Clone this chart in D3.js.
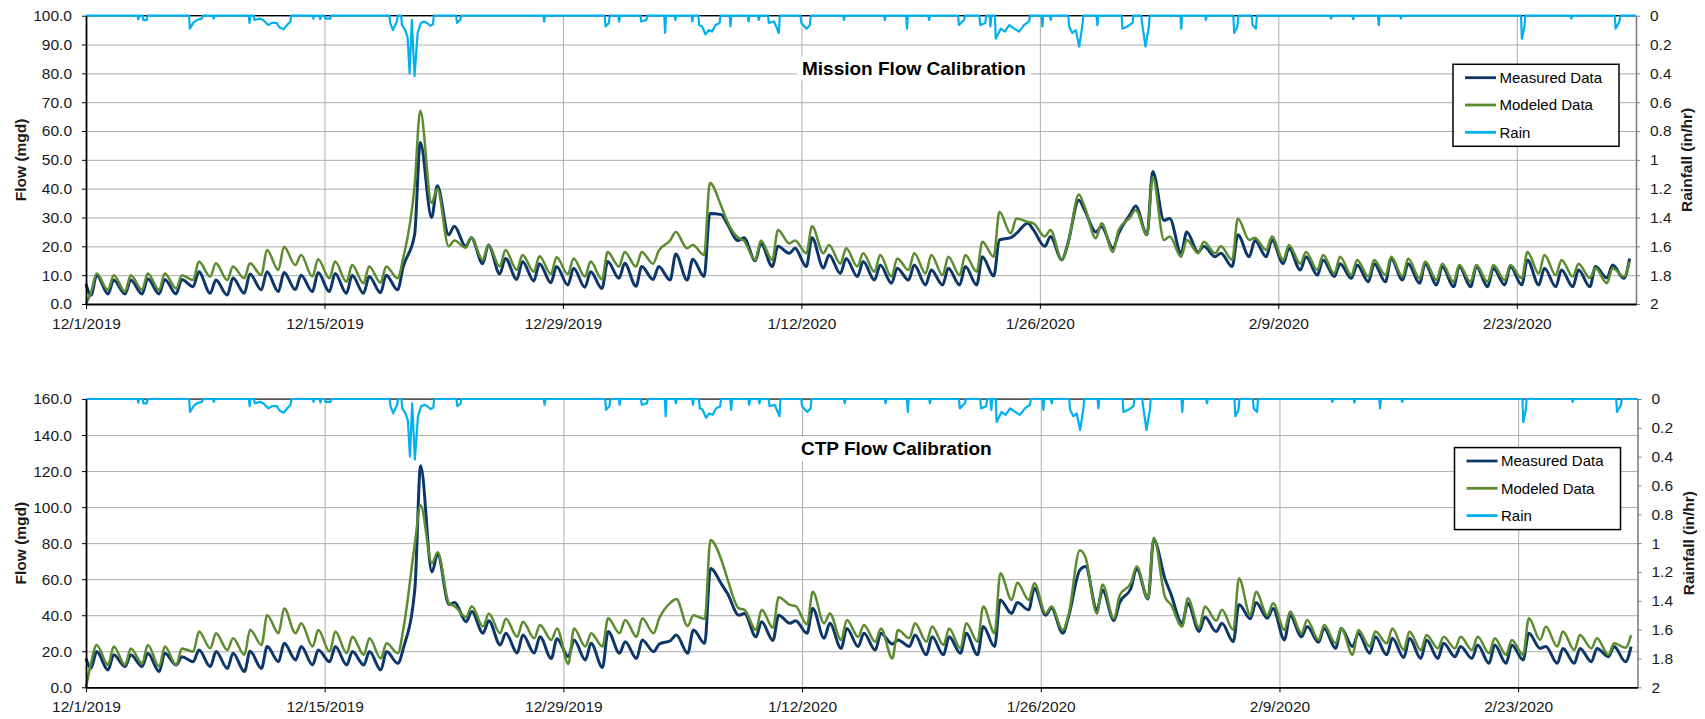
<!DOCTYPE html>
<html>
<head>
<meta charset="utf-8">
<script src="https://cdn.jsdelivr.net/npm/d3@7"></script>
<style>
  html, body { margin: 0; padding: 0; background: #fff; }
  svg { display: block; font-family: "Liberation Sans", Arial, sans-serif; }
</style>
</head>
<body>
<svg id="chart" width="1705" height="719"></svg>
<script>
// ---- Period and axis ticks ----
const periodStart = "2019-12-01";
const periodEnd = "2020-03-01";
const dateTickLabels = ["12/1/2019", "12/15/2019", "12/29/2019", "1/12/2020", "1/26/2020", "2/9/2020", "2/23/2020"];
const missionFlowTicks = [0, 10, 20, 30, 40, 50, 60, 70, 80, 90, 100];
const ctpFlowTicks = [0, 20, 40, 60, 80, 100, 120, 140, 160];
const rainTicks = [0, 0.2, 0.4, 0.6, 0.8, 1, 1.2, 1.4, 1.6, 1.8, 2];
const seriesNames = ["Measured Data", "Modeled Data", "Rain"];

// ---- Flow readings (mgd): value at midnight on 12/1, then one morning low (07:00)
//      and one afternoon high (15:00) per day, 12/1/2019 .. 2/29/2020 ----
const missionMeasuredStart = 7;
const missionMeasuredLow = [3, 3.5, 3.5, 3.5, 3.5, 3.5, 6, 3.7, 3.1, 3.7, 4.9, 4.3, 5, 4.3, 4.3, 3.7, 3.7, 3.9, 4.9, 24,
  30, 24, 20, 14, 10.4, 8.5, 8, 7.4, 6.6, 5.8, 5.4, 8.9, 6.2, 8.5, 8.3, 8.3, 9.5, 31, 22, 15,
  13, 17.6, 13, 12.5, 10.6, 9.5, 8.3, 7.2, 8.3, 6.6, 6.6, 6.6, 6.6, 9.7, 23, 28, 20, 15.3, 36, 25,
  19.3, 31, 24, 29, 17.6, 18, 16.4, 13, 16.4, 16.4, 14, 11.8, 10, 9.5, 8.9, 7.7, 7.7, 8.3, 7.2, 6.6,
  6, 6, 6, 6.6, 6.6, 6.6, 6, 6, 6, 9, 8.9];
const missionMeasuredHigh = [10, 8.3, 8.3, 8.8, 8.5, 8.5, 11.2, 8.3, 9, 10.4, 11.2, 10.9, 10, 10.9, 10.6, 10, 9.5, 10, 13, 56,
  41, 27, 23, 20.5, 15.8, 14.7, 14, 13, 12.4, 11.2, 14.7, 14.1, 13, 13, 17.3, 15.5, 31.4, 28, 23, 21,
  20, 19.3, 23, 17, 15.8, 14.7, 13.5, 12.4, 13.5, 11.8, 12.4, 13, 16.4, 22.2, 24.5, 25.7, 23.4, 20.5, 32.6, 26.8,
  24.5, 34, 46, 29.7, 25, 20, 17.6, 24, 22, 22.2, 19.3, 16.4, 15.3, 14, 13.5, 14, 15.8, 14, 14, 13,
  13, 13, 12.4, 13, 15.3, 12.4, 11.8, 11.8, 13, 13.5, 15.8];
const missionModeledStart = 0;
const missionModeledLow = [4, 4.9, 4.3, 4.9, 4.9, 5.4, 8.3, 9.5, 8.3, 8.9, 10, 11.8, 13.5, 9.5, 8.9, 7.7, 7.2, 7.4, 8.9, 41,
  35, 20, 19.5, 15.3, 13, 11.8, 11.2, 10.4, 10.4, 9.5, 8.5, 13, 13, 14, 22, 19.3, 17, 34, 23, 15.3,
  15.3, 21, 17.6, 17.6, 14, 13, 11.2, 9.5, 11.8, 10.6, 10, 10, 11.2, 16.4, 24.5, 28.5, 23.4, 15.3, 38, 22.8,
  18, 30, 24, 22.2, 16.4, 17.6, 17.6, 15.3, 22.2, 18.7, 15.3, 14, 11.8, 10.6, 10, 9.5, 10, 9.5, 8.9, 8.3,
  7.7, 7.7, 7.7, 8.3, 8.9, 10.6, 10, 9.5, 9, 7.2, 9.5];
const missionModeledHigh = [10.6, 10, 10, 10.6, 10.6, 10, 14.7, 14.1, 13, 14.1, 18.7, 19.9, 17, 15.5, 14.7, 13.5, 13, 13, 16, 67,
  40, 22, 23, 20.5, 18.7, 17, 16.6, 16.2, 15.8, 14.7, 18, 18, 18, 18.5, 25, 20.5, 42, 29, 22, 22,
  25.7, 22, 27, 20.5, 19.3, 17.6, 17, 15.8, 17.6, 17, 16.4, 17, 21.6, 32, 29.7, 28, 25.7, 20, 33.8, 28,
  25.7, 32.6, 44, 23.4, 22.2, 21.6, 20, 29.7, 23, 23.4, 20.5, 18, 17, 16.4, 15.3, 15.3, 16.4, 15.8, 14.7, 14,
  13.5, 13.5, 13.5, 13.5, 18, 17, 15.3, 14, 12.5, 12.4, 14.7];

const ctpMeasuredStart = 16;
const ctpMeasuredLow = [10.5, 9.6, 11.5, 11.5, 8.7, 12.4, 14.2, 11.5, 10.5, 8.7, 10.5, 14.2, 15.2, 12.4, 14.2, 12.4, 12.4, 9.6, 13.3, 55,
  64, 46, 36.4, 30, 23.5, 19, 19, 16, 17, 15.2, 11, 18.9, 16, 19.8, 26, 18.9, 24.4, 57, 40, 28,
  26, 35.5, 30, 27.2, 21.6, 22.6, 20.7, 24, 22.6, 18, 18, 18.9, 18, 22.6, 41, 43, 40, 30, 65, 43,
  37, 55, 49, 60, 35.5, 31, 30.9, 25.3, 38, 38.3, 26.3, 28, 25, 21.6, 22.6, 18.9, 18, 16.5, 16, 16,
  17, 16, 13.3, 13.3, 15.2, 21.6, 13.3, 13.3, 14.2, 17, 14.2];
const ctpMeasuredHigh = [19.8, 18, 18, 18.9, 18.9, 17, 20.7, 19.8, 18.9, 20, 22.6, 24.4, 22.6, 20.7, 22.6, 19.8, 19.8, 19.8, 22, 123,
  74, 47, 42, 37, 30, 29, 28, 27, 26.3, 24.4, 31, 25.3, 26.3, 24, 29, 31.8, 66, 52, 41, 36.4,
  40, 37, 43.8, 35.5, 32.7, 30, 30, 26.3, 29, 28, 28, 30, 33.7, 48.5, 47, 55, 44, 39, 67, 54,
  47, 66, 82, 52, 46.6, 39, 35.5, 46, 47, 43.8, 40, 33.7, 32.7, 32.7, 30, 28, 27.2, 27.2, 26.3, 24.4,
  22.6, 23.5, 23.5, 23.5, 30, 22.6, 21.6, 21.6, 21.6, 22.6, 22.6];
const ctpModeledStart = 0;
const ctpModeledLow = [13.3, 12.4, 12.4, 13.3, 11.5, 12.4, 19.8, 21.6, 20.7, 18, 23.5, 30, 30, 22.6, 19.8, 18.9, 18, 16, 18.9, 80,
  69, 46.6, 39, 33.7, 30, 28, 27.2, 26.3, 13, 22.6, 22.6, 30, 28, 30, 47, 34, 38, 70, 43.8, 31.8,
  33, 45.7, 35, 35.5, 26.3, 28, 25.3, 16, 27.2, 25.3, 23.5, 21.6, 25.3, 30, 48.5, 48.5, 41, 31.8, 76, 41,
  38, 58, 49.4, 50, 33.7, 33, 37, 31.8, 40, 40, 31.8, 30, 26.3, 24.4, 18, 22.6, 24.4, 20.7, 20.7, 21.6,
  21.6, 20.7, 18.9, 18, 18, 26.3, 22.6, 20.7, 21.6, 18, 22];
const ctpModeledHigh = [23.5, 22.6, 21.6, 23.5, 22.6, 21.6, 30.9, 30, 27.2, 32, 40, 43.8, 35.5, 31.8, 30.9, 28, 27.2, 24.4, 33, 101,
  75, 45, 45, 41, 38, 36.4, 34.6, 32.7, 32.7, 30, 38.3, 37.4, 38.3, 38.3, 49, 40, 81.8, 60, 43, 43,
  50, 45, 53, 41, 37.4, 34.6, 32.7, 31.8, 35.5, 33.7, 32.7, 35.5, 44.8, 63.3, 58, 57.7, 44.8, 40, 72, 57,
  51, 67, 83, 46, 49.4, 44.8, 43, 60.5, 53, 46.6, 42, 37.4, 34.6, 32.7, 31.8, 30.9, 32.7, 31, 29, 28,
  28, 28, 27.2, 26.3, 38.3, 33.7, 30.9, 29, 27.2, 24.4, 29];

// ---- Rain gauge readings: time (days after 12/1 00:00) and intensity (in/hr) ----
const rainDay = [3.07, 3.37, 3.56, 6.1, 6.3, 6.5, 6.8, 7.5, 9.6, 9.9, 10.2, 10.4, 10.7, 10.9, 11.2, 11.35, 11.6, 11.8, 12.0,
  13.35, 13.75, 14.05, 14.34, 17.86, 18.02, 18.25, 18.55, 18.74, 18.88, 19.0, 19.13, 19.29, 19.47, 19.66, 19.85,
  20.02, 20.21, 20.37, 21.78, 21.97, 26.9, 30.5, 30.7, 31.3, 32.6, 32.9, 34.0, 34.6, 35.6, 36.0, 36.17, 36.37,
  36.56, 36.76, 36.96, 37.2, 37.84, 38.9, 39.5, 40.09, 40.39, 40.68, 42.0, 42.3, 42.5, 44.5, 46.9, 48.2, 49.5,
  51.25, 51.55, 52.5, 52.8, 53.1, 53.41, 53.7, 53.94, 54.2, 54.5, 54.78, 55.07, 55.37, 56.15, 56.64, 57.72,
  57.91, 58.11, 58.31, 58.5, 59.38, 60.85, 61.14, 61.44, 62.0, 62.2, 62.4, 64.3, 65.75, 67.41, 67.6, 68.49,
  68.69, 73.1, 74.4, 75.9, 77.2, 84.3, 84.45, 87.2, 89.8, 90.03];
const rainRate = [0.025, 0.03, 0.03, 0.09, 0.05, 0.03, 0.02, 0.02, 0.05, 0.03, 0.02, 0.03, 0.065, 0.05, 0.05, 0.08, 0.095, 0.065, 0.04,
  0.02, 0.025, 0.02, 0.02, 0.05, 0.1, 0.04, 0.065, 0.1, 0.15, 0.40, 0.03, 0.42, 0.12, 0.05, 0.04,
  0.05, 0.07, 0.06, 0.05, 0.03, 0.04, 0.075, 0.05, 0.04, 0.04, 0.03, 0.12, 0.03, 0.04, 0.065, 0.075, 0.13,
  0.1, 0.11, 0.065, 0.05, 0.075, 0.04, 0.03, 0.05, 0.04, 0.12, 0.05, 0.09, 0.065, 0.03, 0.03, 0.09, 0.03,
  0.065, 0.03, 0.065, 0.05, 0.075, 0.16, 0.09, 0.11, 0.065, 0.09, 0.11, 0.065, 0.04, 0.075, 0.03, 0.075,
  0.12, 0.1, 0.215, 0.065, 0.065, 0.09, 0.075, 0.05, 0.05, 0.215, 0.075, 0.09, 0.03, 0.12, 0.075, 0.065,
  0.09, 0.02, 0.025, 0.065, 0.02, 0.16, 0.075, 0.02, 0.09, 0.04];

// ---- Styling ----
const colors = { measured: "#0d3768", modeled: "#5b8c30", rain: "#00b0f0" };
const gridColor = "#adadad";
const textColor = "#1a1a1a";

// ---- Helpers ----
const parseISO = d3.timeParse("%Y-%m-%d");
const parseTick = d3.timeParse("%m/%d/%Y");
const t0 = parseISO(periodStart);
const t1 = parseISO(periodEnd);
const dayToDate = d => new Date(t0.getTime() + d * 864e5);
const dateTicks = dateTickLabels.map(parseTick);
const fmtDate = d3.timeFormat("%-m/%-d/%Y");

function flowSeries(start, lows, highs) {
  const pts = [{ t: t0, v: start }];
  lows.forEach((lo, i) => {
    pts.push({ t: dayToDate(i + 7 / 24), v: lo });
    pts.push({ t: dayToDate(i + 15 / 24), v: highs[i] });
  });
  return pts;
}

// readings closer than this (days) belong to one storm and are joined directly
const stormGap = 0.3;

function rainSeries() {
  const pts = [{ t: t0, v: 0 }];
  rainDay.forEach((d, i) => {
    const prev = i > 0 ? rainDay[i - 1] : -1;
    const next = i < rainDay.length - 1 ? rainDay[i + 1] : 999;
    if (d - prev > stormGap) pts.push({ t: dayToDate(d - 0.05), v: 0 });
    pts.push({ t: dayToDate(d), v: rainRate[i] });
    if (next - d > stormGap) pts.push({ t: dayToDate(d + 0.05), v: 0 });
  });
  pts.push({ t: t1, v: 0 });
  return pts;
}

const svg = d3.select("#chart");

function drawPanel(cfg) {
  const { left, right, top, bottom } = cfg;
  const x = d3.scaleTime().domain([t0, t1]).range([left, right]);
  const y = d3.scaleLinear().domain([0, cfg.yMax]).range([bottom, top]);
  const yRain = d3.scaleLinear().domain([0, 2]).range([top, bottom]);
  const g = svg.append("g");

  // gridlines
  g.append("g")
    .attr("transform", `translate(${left},0)`)
    .call(d3.axisLeft(y).tickValues(cfg.yTicks).tickSize(-(right - left)).tickFormat(""))
    .call(s => s.select(".domain").remove())
    .selectAll("line").attr("stroke", gridColor).attr("stroke-width", 1);
  g.append("g")
    .attr("transform", `translate(0,${bottom})`)
    .call(d3.axisBottom(x).tickValues(dateTicks).tickSize(-(bottom - top)).tickFormat(""))
    .call(s => s.select(".domain").remove())
    .selectAll("line").attr("stroke", gridColor).attr("stroke-width", 1);

  // top frame edge (mostly hidden under the zero-rain line)
  g.append("line").attr("x1", left).attr("x2", right).attr("y1", top).attr("y2", top)
    .attr("stroke", "#000").attr("stroke-width", 1.2);

  // flow series
  const flowLine = d3.line().x(d => x(d.t)).y(d => y(d.v)).curve(d3.curveMonotoneX);
  g.append("path").datum(flowSeries(cfg.measured[0], cfg.measured[1], cfg.measured[2]))
    .attr("d", flowLine).attr("fill", "none").attr("stroke", colors.measured)
    .attr("stroke-width", 3).attr("stroke-linejoin", "round");
  g.append("path").datum(flowSeries(cfg.modeled[0], cfg.modeled[1], cfg.modeled[2]))
    .attr("d", flowLine).attr("fill", "none").attr("stroke", colors.modeled)
    .attr("stroke-width", 2.5).attr("stroke-linejoin", "round");

  // rain, hanging from the top on the reversed secondary axis
  const rainLine = d3.line().x(d => x(d.t)).y(d => yRain(d.v));
  g.append("path").datum(rainSeries())
    .attr("d", rainLine).attr("fill", "none").attr("stroke", colors.rain)
    .attr("stroke-width", 2.2).attr("stroke-linejoin", "round");

  // left axis
  const axL = g.append("g").attr("transform", `translate(${left},0)`)
    .call(d3.axisLeft(y).tickValues(cfg.yTicks).tickSizeInner(4).tickSizeOuter(0).tickPadding(10)
      .tickFormat(d3.format(".1f")));
  axL.select(".domain").attr("stroke", "#000").attr("stroke-width", 1.8);
  axL.selectAll("line").attr("stroke", "#000");
  axL.selectAll("text").attr("font-size", 15.5).attr("fill", textColor)
    .attr("font-family", "Liberation Sans, Arial, sans-serif");

  // right axis (rainfall)
  const axR = g.append("g").attr("transform", `translate(${right},0)`)
    .call(d3.axisRight(yRain).tickValues(rainTicks).tickSizeInner(4).tickSizeOuter(0).tickPadding(10)
      .tickFormat(d => String(+d.toFixed(1))));
  axR.select(".domain").attr("stroke", "#7f7f7f").attr("stroke-width", 1.6);
  axR.selectAll("line").attr("stroke", "#7f7f7f");
  axR.selectAll("text").attr("font-size", 15.5).attr("fill", textColor)
    .attr("font-family", "Liberation Sans, Arial, sans-serif");

  // bottom axis
  const axB = g.append("g").attr("transform", `translate(0,${bottom})`)
    .call(d3.axisBottom(x).tickValues(dateTicks).tickSizeInner(5).tickSizeOuter(0).tickPadding(9)
      .tickFormat(fmtDate));
  axB.select(".domain").attr("stroke", "#000").attr("stroke-width", 1.8);
  axB.selectAll("line").attr("stroke", "#000");
  axB.selectAll("text").attr("font-size", 15.5).attr("fill", textColor)
    .attr("font-family", "Liberation Sans, Arial, sans-serif");

  // axis titles
  const mid = (top + bottom) / 2;
  g.append("text").attr("transform", `translate(25.5,${mid}) rotate(-90)`)
    .attr("text-anchor", "middle").attr("font-size", 15.5).attr("font-weight", "bold")
    .attr("fill", textColor).text("Flow (mgd)");
  g.append("text").attr("transform", `translate(${right + 56},${mid}) rotate(-90)`)
    .attr("text-anchor", "middle").attr("font-size", 15.5).attr("font-weight", "bold")
    .attr("fill", textColor).text("Rainfall (in/hr)");

  // chart title on a white box
  const title = g.append("text").attr("x", cfg.titleX).attr("y", cfg.titleY)
    .attr("font-size", 19).attr("font-weight", "bold").attr("fill", "#000").text(cfg.title);
  const bb = title.node().getBBox();
  g.insert("rect", () => title.node())
    .attr("x", bb.x - 5).attr("y", bb.y - 1).attr("width", bb.width + 10).attr("height", bb.height + 3)
    .attr("fill", "#fff");

  // legend
  const lx = right - 183, ly = top + 48.6;
  const lg = g.append("g").attr("transform", `translate(${lx},${ly})`);
  lg.append("rect").attr("width", 166).attr("height", 82)
    .attr("fill", "#fff").attr("stroke", "#000").attr("stroke-width", 1.5);
  const legendColors = [colors.measured, colors.modeled, colors.rain];
  seriesNames.forEach((name, i) => {
    const ry = 13.4 + i * 27.3;
    lg.append("line").attr("x1", 12).attr("x2", 43).attr("y1", ry).attr("y2", ry)
      .attr("stroke", legendColors[i]).attr("stroke-width", 2.8);
    lg.append("text").attr("x", 46.5).attr("y", ry + 5.5).attr("font-size", 15)
      .attr("fill", "#000").text(name);
  });
}

drawPanel({
  left: 86, right: 1636, top: 15.7, bottom: 304,
  yMax: 100, yTicks: missionFlowTicks,
  title: "Mission Flow Calibration", titleX: 802, titleY: 74.5,
  measured: [missionMeasuredStart, missionMeasuredLow, missionMeasuredHigh],
  modeled: [missionModeledStart, missionModeledLow, missionModeledHigh]
});

drawPanel({
  left: 86, right: 1637.5, top: 399, bottom: 687.3,
  yMax: 160, yTicks: ctpFlowTicks,
  title: "CTP Flow Calibration", titleX: 801, titleY: 455,
  measured: [ctpMeasuredStart, ctpMeasuredLow, ctpMeasuredHigh],
  modeled: [ctpModeledStart, ctpModeledLow, ctpModeledHigh]
});
</script>
</body>
</html>
